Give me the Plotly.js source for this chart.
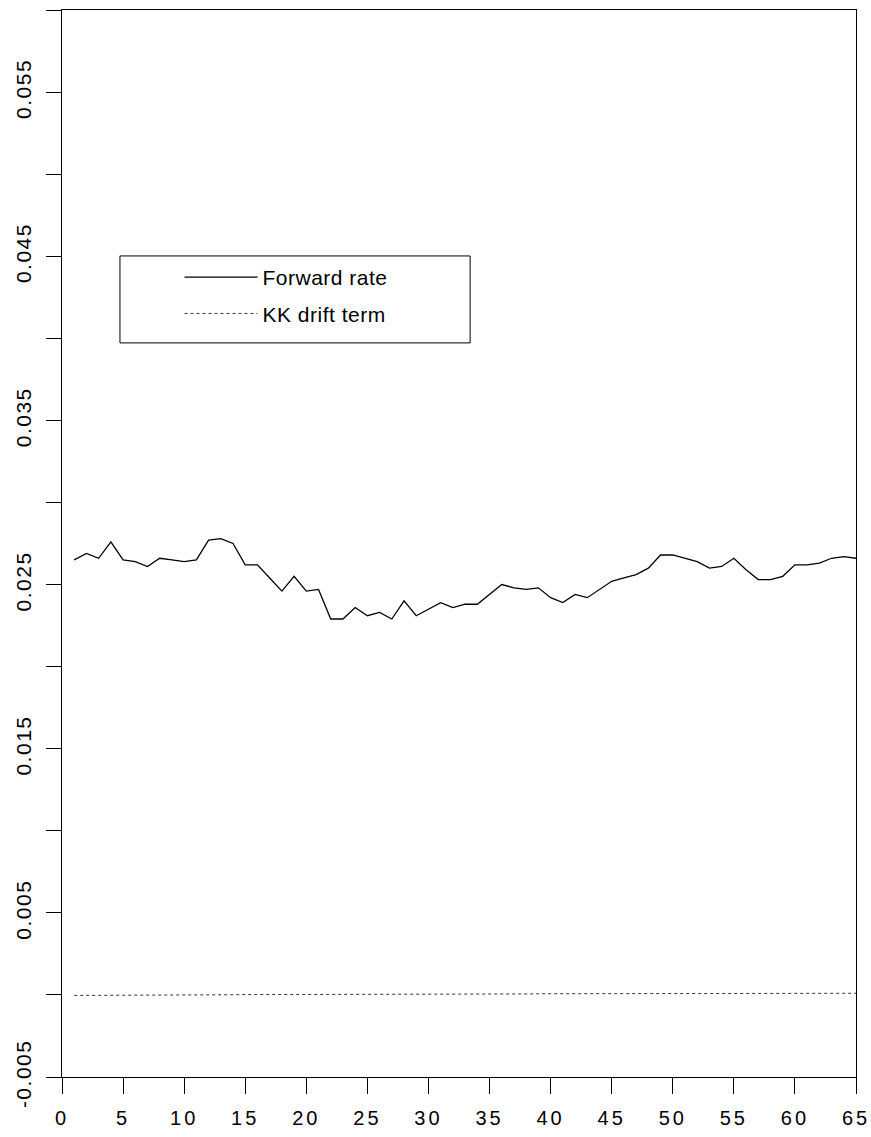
<!DOCTYPE html>
<html>
<head>
<meta charset="utf-8">
<script src="https://cdn.plot.ly/plotly-3.0.1.min.js"></script>
<style>
  html, body { margin: 0; padding: 0; background: #fff; }
  #chart { width: 871px; height: 1137px; }
  .xtick text { letter-spacing: 3px; }
  .ytick text { letter-spacing: 1.5px; }
  .legendtext { letter-spacing: 0.5px; }
</style>
</head>
<body>
<div id="chart"></div>
<script>
// Months (x positions)
const months = [1,2,3,4,5,6,7,8,9,10,11,12,13,14,15,16,17,18,19,20,21,22,23,24,25,26,27,28,29,30,31,32,33,34,35,36,37,38,39,40,41,42,43,44,45,46,47,48,49,50,51,52,53,54,55,56,57,58,59,60,61,62,63,64,65];

// Forward rate series
const forwardRate = [0.0265,0.0269,0.0266,0.0276,0.0265,0.0264,0.0261,0.0266,0.0265,0.0264,
                     0.0265,0.0277,0.0278,0.0275,0.0262,0.0262,0.0254,0.0246,0.0255,0.0246,
                     0.0247,0.0229,0.0229,0.0236,0.0231,0.0233,0.0229,0.0240,0.0231,0.0235,
                     0.0239,0.0236,0.0238,0.0238,0.0244,0.0250,0.0248,0.0247,0.0248,0.0242,
                     0.0239,0.0244,0.0242,0.0247,0.0252,0.0254,0.0256,0.0260,0.0268,0.0268,
                     0.0266,0.0264,0.0260,0.0261,0.0266,0.0259,0.0253,0.0253,0.0255,0.0262,
                     0.0262,0.0263,0.0266,0.0267,0.0266];

// KK drift term series
const driftTerm = [-0.00003,-0.00003,-0.00002,-0.00002,-0.00002,-0.00001,-0.00001,-0.00001,0.00000,0.00000,
                   0.00000,0.00001,0.00001,0.00001,0.00002,0.00002,0.00002,0.00002,0.00003,0.00003,
                   0.00003,0.00003,0.00004,0.00004,0.00004,0.00004,0.00004,0.00005,0.00005,0.00005,
                   0.00005,0.00005,0.00006,0.00006,0.00006,0.00006,0.00006,0.00006,0.00007,0.00007,
                   0.00007,0.00007,0.00007,0.00007,0.00008,0.00008,0.00008,0.00008,0.00008,0.00008,
                   0.00008,0.00009,0.00009,0.00009,0.00009,0.00009,0.00009,0.00009,0.00010,0.00010,
                   0.00010,0.00010,0.00010,0.00010,0.00010];

// Tick labels
const xTickVals = [0,5,10,15,20,25,30,35,40,45,50,55,60,65];
const xTickText = ['0','5','10','15','20','25','30','35','40','45','50','55','60','65'];
const yTickVals = [-0.005,0.005,0.015,0.025,0.035,0.045,0.055];
const yTickText = ['-0.005','0.005','0.015','0.025','0.035','0.045','0.055'];

const seriesNames = ['Forward rate','KK drift term'];

const traces = [
  {
    x: months, y: forwardRate, type: 'scatter', mode: 'lines',
    name: seriesNames[0], legendgroup: 'a',
    line: {color: '#000', width: 1.3}
  },
  {
    x: months, y: driftTerm, type: 'scatter', mode: 'lines',
    name: seriesNames[1], legendgroup: 'b',
    line: {color: '#333', width: 1, dash: 'dot'}
  }
];

const layout = {
  width: 871, height: 1137,
  margin: {l: 62, r: 15, t: 10, b: 60},
  paper_bgcolor: '#fff', plot_bgcolor: '#fff',
  font: {family: '"Liberation Sans", Arial, sans-serif', color: '#000', size: 20},
  showlegend: true,
  legend: {
    x: 0.148, y: 0.7685, xanchor: 'left', yanchor: 'top',
    bgcolor: 'rgba(0,0,0,0)', borderwidth: 0,
    itemwidth: 73, tracegroupgap: 6,
    font: {size: 21, color: '#000'}
  },
  xaxis: {
    range: [0, 65], showgrid: false, zeroline: false,
    showline: true, mirror: true, linecolor: '#000', linewidth: 1,
    ticks: 'outside', ticklen: 16, tickcolor: '#000', tickwidth: 1,
    tickmode: 'array', tickvals: xTickVals, ticktext: xTickText,
    ticklabelstandoff: 7,
    tickfont: {size: 20}
  },
  yaxis: {
    range: [-0.005, 0.06], showgrid: false, zeroline: false,
    showline: true, mirror: true, linecolor: '#000', linewidth: 1,
    ticks: 'outside', ticklen: 15, tickcolor: '#000', tickwidth: 1,
    tickmode: 'array', tickvals: yTickVals, ticktext: yTickText,
    tickangle: -90, ticklabelstandoff: 7,
    tickfont: {size: 21},
    minor: {ticks: 'outside', ticklen: 15, tickcolor: '#000', tickwidth: 1, dtick: 0.01, tick0: 0, showgrid: false}
  },
  shapes: [
    {type: 'rect', xref: 'paper', yref: 'paper',
     x0: 0.073, x1: 0.514, y0: 0.688, y1: 0.7695,
     line: {color: '#000', width: 1}, fillcolor: 'rgba(0,0,0,0)'}
  ]
};

Plotly.newPlot('chart', traces, layout, {displayModeBar: false, staticPlot: true});
</script>
</body>
</html>
